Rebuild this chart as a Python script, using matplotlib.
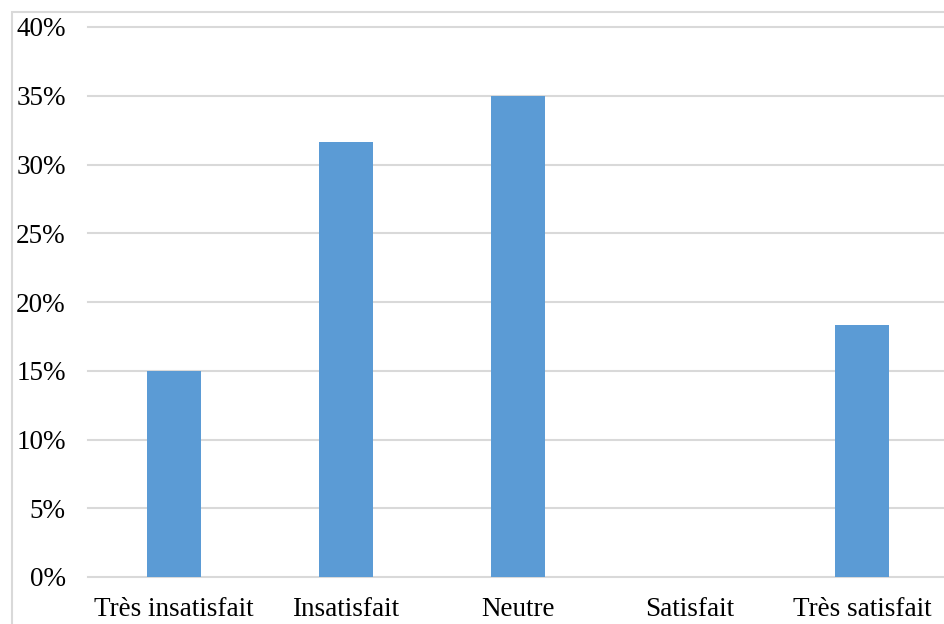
import matplotlib
matplotlib.use("Agg")
import matplotlib.pyplot as plt
from matplotlib.patches import Rectangle
from matplotlib.ticker import PercentFormatter

categories = ["Très insatisfait", "Insatisfait", "Neutre", "Satisfait", "Très satisfait"]
values = [15.0, 31.67, 35.0, 0.0, 18.33]
yticks = [0, 5, 10, 15, 20, 25, 30, 35, 40]

plt.rcParams['font.family'] = ['Liberation Serif', 'DejaVu Serif']

fig = plt.figure(figsize=(9.44, 6.24), dpi=100)
fig.patch.set_facecolor('white')

# outer chart border (cropped at right & bottom)
fig.add_artist(Rectangle((12/944, -0.1), 1.2, (624-12)/624 + 0.1, transform=fig.transFigure,
                         fill=False, edgecolor='#d9d9d9', linewidth=1.5))

ax = fig.add_axes([88/944, 47/624, 860/944, 550/624])
x = range(len(categories))
ax.bar(x, values, width=0.316, color='#5b9bd5', zorder=3)
ax.set_xlim(-0.5, len(categories) - 0.5)
ax.set_ylim(0, 40)
ax.set_yticks(yticks)
ax.yaxis.set_major_formatter(PercentFormatter(decimals=0))
ax.set_xticks(list(x))
ax.set_xticklabels(categories)
ax.grid(axis='y', color='#d9d9d9', linewidth=1.5, zorder=0)
for gl in ax.get_ygridlines():
    gl.set_clip_on(False)
for s in ax.spines.values():
    s.set_visible(False)
ax.tick_params(axis='both', length=0, labelsize=19.5, colors='black')
ax.tick_params(axis='y', pad=16)
ax.tick_params(axis='x', pad=14.5)
ax.set_axisbelow(True)

fig.savefig("out.png", dpi=100)
